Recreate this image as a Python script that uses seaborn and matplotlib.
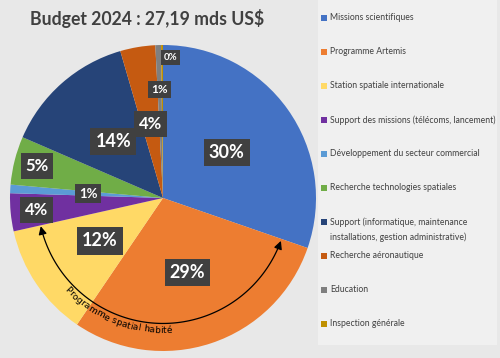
import numpy as np
import matplotlib
matplotlib.use("Agg")
import matplotlib.pyplot as plt
import seaborn as sns
from matplotlib.patches import Rectangle, FancyArrowPatch
from matplotlib.path import Path

# ---------------- data ----------------
categories = [
    "Missions scientifiques",
    "Programme Artemis",
    "Station spatiale internationale",
    "Support des missions (télécoms, lancement)",
    "Développement du secteur commercial",
    "Recherche technologies spatiales",
    "Support (informatique, maintenance\ninstallations, gestion administrative)",
    "Recherche aéronautique",
    "Education",
    "Inspection générale",
]
values = [30.3, 29.2, 12.0, 4.0, 0.9, 5.1, 14.0, 3.7, 0.6, 0.2]
pct_labels = ["30%", "29%", "12%", "4%", "1%", "5%", "14%", "4%", "1%", "0%"]
colors = ["#4472C4", "#ED7D31", "#FFD966", "#7030A0", "#5B9BD5",
          "#70AD47", "#264478", "#C55A11", "#7F7F7F", "#BF9000"]
title = "Budget 2024 : 27,19 mds US$"
arc_text = "Programme spatial habité"

# label styling / placement (layout only)
label_radius = [0.51, 0.51, 0.50, 0.83, 0.49, 0.85, 0.49, 0.49, 0.71, 0.92]
label_shift = [0, 0, 0, 0, 0, 0, 0, 0, 0, -3.5]
label_size = [13, 13, 13, 12, 9.5, 12, 13, 12, 8.5, 7]

sns.set_theme(style="white")
W, H = 500, 358
fig = plt.figure(figsize=(W / 100, H / 100), dpi=100)
fig.set_facecolor("#e8e8e8")

# right panel
fig.patches.append(Rectangle((318 / W, 1 - 345 / H), (497 - 318) / W, 345 / H,
                             transform=fig.transFigure, fc="#f0f0f0", ec="none", zorder=0))

R = 153
cx, cy = 163, 198
ax = fig.add_axes([(cx - R) / W, (H - cy - R) / H, 2 * R / W, 2 * R / H])
ax.set_facecolor("none")
wedges, _ = ax.pie(values, colors=colors, startangle=90, counterclock=False,
                   radius=1, wedgeprops=dict(linewidth=0))
ax.set_xlim(-1, 1)
ax.set_ylim(-1, 1)
ax.set_aspect("equal")
ax.axis("off")

for wdg, lab, rf, sh, fs in zip(wedges, pct_labels, label_radius, label_shift, label_size):
    mid = np.deg2rad((wdg.theta1 + wdg.theta2) / 2 + sh)
    ax.text(rf * np.cos(mid), rf * np.sin(mid), lab, ha="center", va="center",
            color="white", fontsize=fs, fontweight="bold", family="Lato",
            bbox=dict(boxstyle="square,pad=0.28", fc="#404040", ec="none"), zorder=5)

# title
fig.text(30 / W, 1 - 19 / H, title, ha="left", va="center", fontsize=12.7,
         fontweight="bold", color="#404040", family="Lato")

fig.canvas.draw()
renderer = fig.canvas.get_renderer()


def tw(s, fs, fam):
    t = fig.text(0, 0, s, fontsize=fs, family=fam)
    bb = t.get_window_extent(renderer)
    t.remove()
    return bb.width


# legend (manual), font size fitted so the longest line fits the panel
leg_fam = "Lato"
longest = max((line for c in categories for line in c.split("\n")), key=len)
leg_fs = min(7.0, 7.0 * 165 / tw(longest, 7.0, leg_fam))
legend_y = [18, 52, 86, 120, 154, 188, 222, 256, 290, 324]
for cat, col, y in zip(categories, colors, legend_y):
    fig.patches.append(Rectangle((321 / W, 1 - (y + 3) / H), 6 / W, 6 / H,
                                 transform=fig.transFigure, fc=col, ec="none", zorder=2))
    fig.text(330 / W, 1 - (y - 5) / H, cat, ha="left", va="top", fontsize=leg_fs,
             color="#404040", family=leg_fam, linespacing=1.75)

# arc arrow
th = np.deg2rad(np.linspace(-167, -20, 120))
ra = 0.82
verts = np.column_stack([ra * np.cos(th), ra * np.sin(th)])
arr = FancyArrowPatch(path=Path(verts), arrowstyle="<|-|>,head_length=0.6,head_width=0.3",
                      mutation_scale=8, color="black", lw=0.9, zorder=6)
ax.add_patch(arr)

# curved text
fs_arc = 6.5
base = tw("l", fs_arc, "DejaVu Sans")
starts = [tw(arc_text[:i] + "l", fs_arc, "DejaVu Sans") - base if i > 0 else 0
          for i in range(len(arc_text) + 1)]
total = starts[-1]
rt = 0.865
r_px = rt * R
theta_mid = np.deg2rad(-111.5)
theta_start = theta_mid - total / (2 * r_px)
for i, ch in enumerate(arc_text):
    c = (starts[i] + starts[i + 1]) / 2
    t = theta_start + c / r_px
    ax.text(rt * np.cos(t), rt * np.sin(t), ch, ha="center", va="center",
            rotation=np.rad2deg(t) + 90, rotation_mode="anchor",
            fontsize=fs_arc, family="DejaVu Sans", color="black", zorder=7)

fig.savefig("out.png", dpi=100, facecolor=fig.get_facecolor())
